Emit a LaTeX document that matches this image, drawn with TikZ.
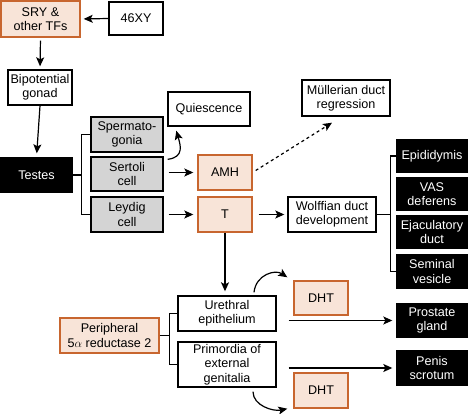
\documentclass[tikz,border=0pt]{standalone}
\usepackage{fontspec}
\setmainfont{Liberation Sans}
\usetikzlibrary{arrows.meta}
\definecolor{orb}{HTML}{C8662F}
\definecolor{orf}{HTML}{F8E4D8}
\definecolor{grf}{HTML}{D4D4D4}
\tikzset{
  base/.style={draw, line width=1.4pt, align=center, inner sep=0pt, font=\fontsize{12.6}{14.4}\selectfont},
  wbox/.style={base, fill=white},
  obox/.style={base, draw=orb, fill=orf},
  gbox/.style={base, fill=grf},
  bbox/.style={base, fill=black, text=white},
  conn/.style={line width=1.2pt},
  arr/.style={line width=1.2pt, -{Stealth[length=9pt,width=8pt,inset=2pt]}},
}
% box from (x1,y1) to (x2,y2) in pixel coordinates
\newcommand{\bx}[7]{\node[#1, minimum width={#4-#2}, minimum height={#5-#3}] (#6) at ({(#2+#4)/2},{(#3+#5)/2}) {#7};}
\begin{document}
\begin{tikzpicture}[x=1pt,y=-1pt]
\useasboundingbox (0,0) rectangle (468,414);
\bx{obox}{1}{1}{80}{37}{sry}{SRY \&\\other TFs}
\bx{wbox}{109}{2}{163}{35}{xy}{46XY}
\bx{wbox}{8}{70}{72}{105}{gonad}{Bipotential\\gonad}
\bx{bbox}{1}{158}{72}{192}{testes}{Testes}
\bx{gbox}{91}{117}{163}{152}{sperm}{Spermato-\\gonia}
\bx{gbox}{91}{157}{163}{191}{sertoli}{Sertoli\\cell}
\bx{gbox}{91}{197}{163}{232}{leydig}{Leydig\\cell}
\bx{wbox}{168}{92}{250}{126}{quies}{Quiescence}
\bx{obox}{198}{155}{252}{190}{amh}{AMH}
\bx{obox}{198}{197}{252}{232}{t}{T}
\bx{wbox}{302}{80}{390}{116}{mull}{Müllerian duct\\regression}
\bx{wbox}{288}{197}{376}{232}{wolff}{Wolffian duct\\development}
\bx{bbox}{397}{140}{467}{172}{epid}{Epididymis}
\bx{bbox}{397}{178}{467}{210}{vas}{VAS\\deferens}
\bx{bbox}{397}{216}{467}{248}{ejac}{Ejaculatory\\duct}
\bx{bbox}{397}{255}{467}{288}{semi}{Seminal\\vesicle}
\bx{wbox}{178}{296}{276}{331}{ureth}{Urethral\\epithelium}
\bx{wbox}{178}{342}{276}{387}{prim}{Primordia of\\external\\genitalia}
\bx{obox}{60}{318}{159}{353}{periph}{Peripheral\\5$\alpha$ reductase 2}
\bx{obox}{294}{281}{348}{315}{dhta}{DHT}
\bx{obox}{294}{373}{348}{408}{dhtb}{DHT}
\bx{bbox}{397}{304}{467}{337}{prost}{Prostate\\gland}
\bx{bbox}{397}{351}{467}{385}{penis}{Penis\\scrotum}

% top arrows
\draw[arr, shorten >=3pt] (xy.west) -- (sry.east);
\draw[arr, shorten <=3pt, shorten >=3pt] (sry.south) -- (gonad.north);
\draw[arr, shorten >=4pt] (gonad.south) -- (testes.north);

% testes bracket
\draw[conn] (sperm.west) -- ++(-9,0) coordinate (tb) |- (leydig.west);
\draw[conn] (testes.east) -- (testes.east -| tb);

% cell arrows
\draw[arr, shorten <=5pt, shorten >=4pt] (sertoli.east |- amh.west) -- (amh.west);
\draw[arr, shorten <=5pt, shorten >=4pt] (leydig.east |- t.west) -- (t.west);
\draw[arr] ([shift={(4,3)}]sertoli.north east) .. controls +(17,-2) and +(4,14) .. ([shift={(9,4)}]quies.south west);
\draw[arr, dashed] ([shift={(3,-2)}]amh.east) -- ([shift={(-14,6)}]mull.south);
\draw[arr, shorten <=6pt, shorten >=3pt] (t.east) -- (t.east -| wolff.west);

% wolffian bracket
\draw[conn] (epid.west) -- ++(-6,0) coordinate (wb) |- (semi.west);
\draw[conn] (wolff.east) -- (wolff.east -| wb);

% T down
\draw[arr, shorten >=4pt] (t.south) -- (t.south |- ureth.north);

% peripheral bracket
\draw[conn] (ureth.west) -- ++(-8,0) coordinate (pb) |- (prim.west);
\draw[conn] (periph.east) -- (periph.east -| pb);

% DHT curves
\draw[arr] ([shift={(27,-3)}]ureth.north) .. controls +(2,-18) and +(-12,-8) .. ([shift={(-6,-3)}]dhta.north west);
\draw[arr] ([shift={(26,4)}]prim.south) .. controls +(0,14) and +(-14,3) .. ([shift={(-6,0)}]dhtb.south west);

% to prostate / penis
\coordinate (u1) at (ureth.east |- prost.west);
\coordinate (p1) at (prim.east |- penis.west);
\draw[arr, shorten >=4pt] ([xshift=12]u1) -- (prost.west);
\draw[arr, shorten >=4pt] ([xshift=12]p1) -- (penis.west);
\end{tikzpicture}
\end{document}
